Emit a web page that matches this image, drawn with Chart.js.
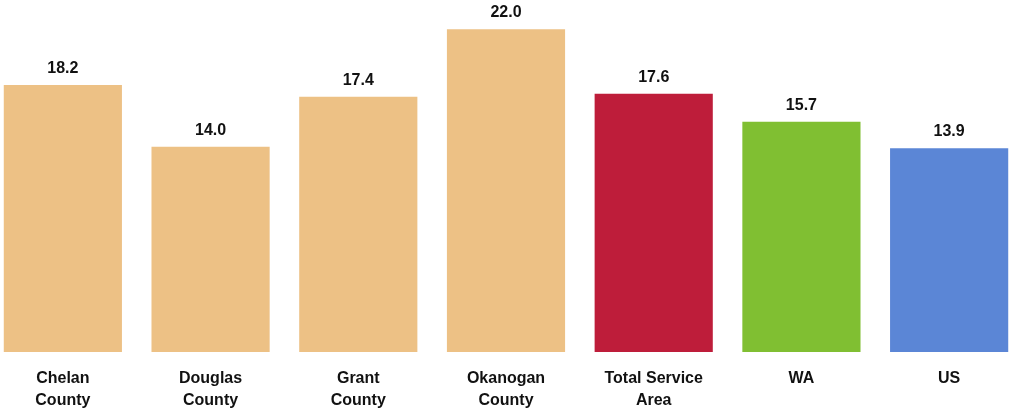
<!DOCTYPE html>
<html>
<head>
<meta charset="utf-8">
<script src="https://cdn.jsdelivr.net/npm/chart.js@4"></script>
<style>
    html, body { margin: 0; padding: 0; background: #ffffff; overflow: hidden; }
    #wrap { position: absolute; left: -11px; top: 0; width: 1034px; height: 408px; }
</style>
</head>
<body>
<div id="wrap"><canvas id="rateChart"></canvas></div>
<script>
const categories = [
    ['Chelan', 'County'],
    ['Douglas', 'County'],
    ['Grant', 'County'],
    ['Okanogan', 'County'],
    ['Total Service', 'Area'],
    ['WA'],
    ['US']
];
const values = [18.2, 14.0, 17.4, 22.0, 17.6, 15.7, 13.9];
const barColors = ['#EDC185', '#EDC185', '#EDC185', '#EDC185', '#BE1D3A', '#80BF32', '#5B86D6'];

const fontFamily = '"Liberation Sans", Arial, sans-serif';

// draws the value above each bar
const valueLabels = {
    id: 'valueLabels',
    afterDatasetsDraw(chart) {
        const ctx = chart.ctx;
        const meta = chart.getDatasetMeta(0);
        ctx.save();
        ctx.font = 'bold 16px ' + fontFamily;
        ctx.fillStyle = '#111111';
        ctx.textAlign = 'center';
        ctx.textBaseline = 'alphabetic';
        meta.data.forEach((bar, i) => {
            ctx.fillText(values[i].toFixed(1), bar.x, bar.y - 12);
        });
        ctx.restore();
    }
};

const ctx = document.getElementById('rateChart').getContext('2d');
const rateChart = new Chart(ctx, {
    type: 'bar',
    data: {
        labels: categories,
        datasets: [{
            data: values,
            backgroundColor: barColors,
            borderWidth: 0,
            categoryPercentage: 1.0,
            barPercentage: 0.8
        }]
    },
    options: {
        responsive: true,
        maintainAspectRatio: false,
        animation: false,
        layout: { padding: 0 },
        plugins: {
            legend: { display: false },
            tooltip: { enabled: false }
        },
        scales: {
            x: {
                grid: { display: false, drawTicks: false },
                border: { display: false },
                afterFit: (axis) => { axis.height = 56; },
                ticks: {
                    color: '#111111',
                    padding: 16,
                    maxRotation: 0,
                    autoSkip: false,
                    font: { family: fontFamily, size: 16, weight: 'bold', lineHeight: 1.375 }
                }
            },
            y: {
                display: false,
                min: 0,
                max: 24
            }
        }
    },
    plugins: [valueLabels]
});
</script>
</body>
</html>
